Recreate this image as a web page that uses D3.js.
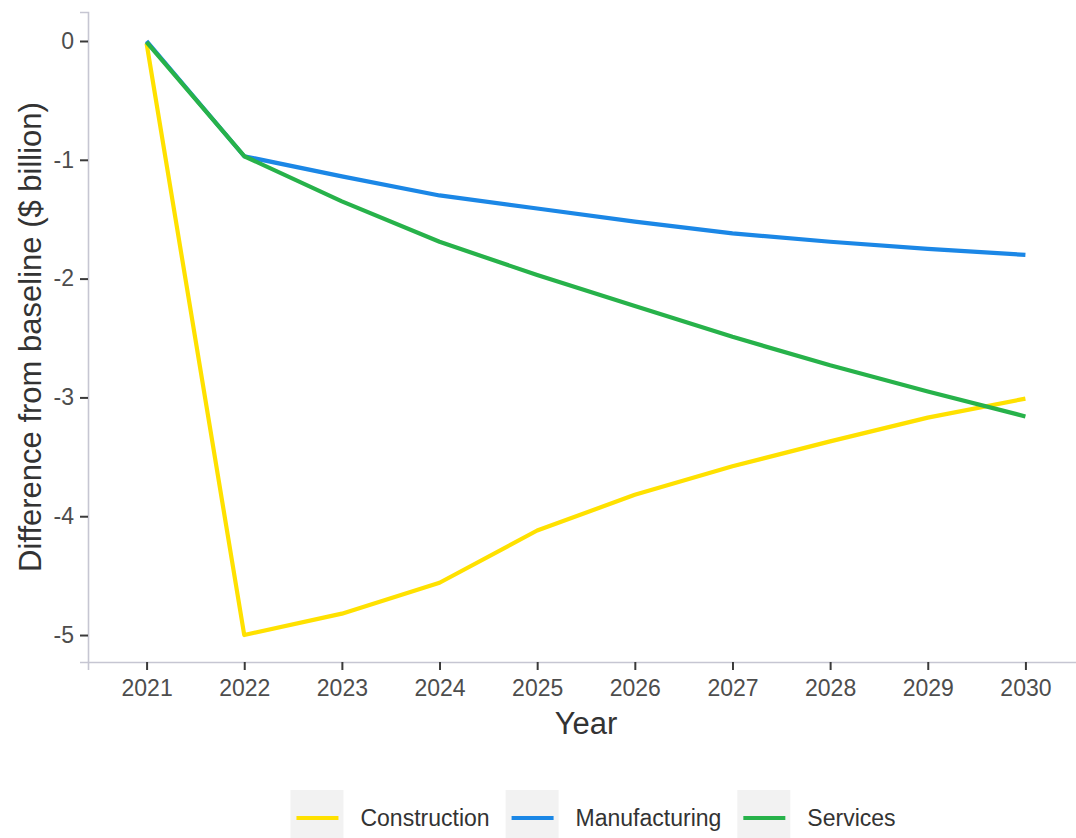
<!DOCTYPE html>
<html>
<head>
<meta charset="utf-8">
<script src="https://cdn.jsdelivr.net/npm/d3@7"></script>
<style>
  body { margin: 0; background: #fff; }
  text { font-family: "Liberation Sans", Arial, sans-serif; }
</style>
</head>
<body>
<div id="chart"></div>
<script>
// data
const years = [2021, 2022, 2023, 2024, 2025, 2026, 2027, 2028, 2029, 2030];
const construction = [-0.02, -5.0, -4.82, -4.56, -4.12, -3.82, -3.58, -3.37, -3.17, -3.01];
const manufacturing = [0, -0.97, -1.14, -1.30, -1.41, -1.52, -1.62, -1.69, -1.75, -1.80];
const services = [-0.01, -0.97, -1.35, -1.69, -1.97, -2.23, -2.49, -2.73, -2.95, -3.16];
const sectorNames = ["Construction", "Manufacturing", "Services"];
const sectorColors = ["#FFE100", "#1B87E6", "#27B24A"];
const yTicks = [0, -1, -2, -3, -4, -5];

const width = 1076, height = 838;
const plot = { left: 88, right: 1084, top: 12, bottom: 662 };

const svg = d3.select("#chart")
    .append("svg")
    .attr("width", width)
    .attr("height", height);

let x = d3.scaleLinear()
    .domain([2020.4, 2030.6])
    .range([plot.left, plot.right]);

let y = d3.scaleLinear()
    .domain([-5.227, 0.244])
    .range([plot.bottom, plot.top]);

// axes
let xAxis = svg.append("g")
    .attr("transform", `translate(0, ${plot.bottom})`)
    .call(d3.axisBottom(x).tickValues(years).tickFormat(d3.format("d")).tickSizeOuter(0).tickSize(8).tickPadding(10));

let yAxis = svg.append("g")
    .attr("transform", `translate(${plot.left}, 0)`)
    .call(d3.axisLeft(y).tickValues(yTicks).tickFormat(d => d === 0 ? "0" : "-" + Math.abs(d)).tickSizeOuter(0).tickSize(8).tickPadding(6));

[xAxis, yAxis].forEach(function (ax) {
    ax.select(".domain").attr("stroke", "#C6C6D2").attr("stroke-width", 1.6);
    ax.selectAll(".tick line").attr("stroke", "#3a3a3a").attr("stroke-width", 2);
    ax.selectAll(".tick text")
        .attr("fill", "#4D4D4D")
        .style("font-size", "23px")
        .style("font-family", "'Liberation Sans', Arial, sans-serif");
});

// axis titles
svg.append("text")
    .attr("x", (plot.left + plot.right) / 2)
    .attr("y", 734)
    .style("text-anchor", "middle")
    .style("font-size", "31px")
    .attr("fill", "#333")
    .text("Year");

svg.append("text")
    .attr("transform", `translate(41, ${(plot.top + plot.bottom) / 2}) rotate(-90)`)
    .style("text-anchor", "middle")
    .style("font-size", "31px")
    .attr("fill", "#333")
    .text("Difference from baseline ($ billion)");

// lines
const series = [construction, manufacturing, services];
let line = d3.line()
    .x(function (d, i) { return x(years[i]); })
    .y(function (d) { return y(d); });

svg.selectAll("path.series")
    .data(series)
    .enter()
    .append("path")
    .attr("class", "series")
    .attr("d", line)
    .attr("fill", "none")
    .attr("stroke", function (d, i) { return sectorColors[i]; })
    .attr("stroke-width", 4.2)
    .attr("stroke-linejoin", "round");

// legend
const keyW = 53, keyGap = 17, itemGap = 16, legendY = 818;
let legend = svg.append("g");
let items = legend.selectAll("g")
    .data(sectorNames)
    .enter()
    .append("g");

items.append("rect")
    .attr("width", keyW)
    .attr("height", 56)
    .attr("y", legendY - 28)
    .attr("fill", "#F2F2F2");

items.append("line")
    .attr("x1", 6)
    .attr("x2", keyW - 5)
    .attr("y1", legendY)
    .attr("y2", legendY)
    .attr("stroke", function (d, i) { return sectorColors[i]; })
    .attr("stroke-width", 4.2);

items.append("text")
    .attr("x", keyW + keyGap)
    .attr("y", legendY + 8)
    .style("font-size", "23px")
    .attr("fill", "#333")
    .text(function (d) { return d; });

// place legend items side by side, centred
let offsets = [], cursor = 0;
items.each(function () {
    offsets.push(cursor);
    let tw = d3.select(this).select("text").node().getComputedTextLength();
    cursor += keyW + keyGap + tw + itemGap;
});
let total = cursor - itemGap;
let startX = 593 - total / 2;
items.attr("transform", function (d, i) { return `translate(${startX + offsets[i]}, 0)`; });
</script>
</body>
</html>
